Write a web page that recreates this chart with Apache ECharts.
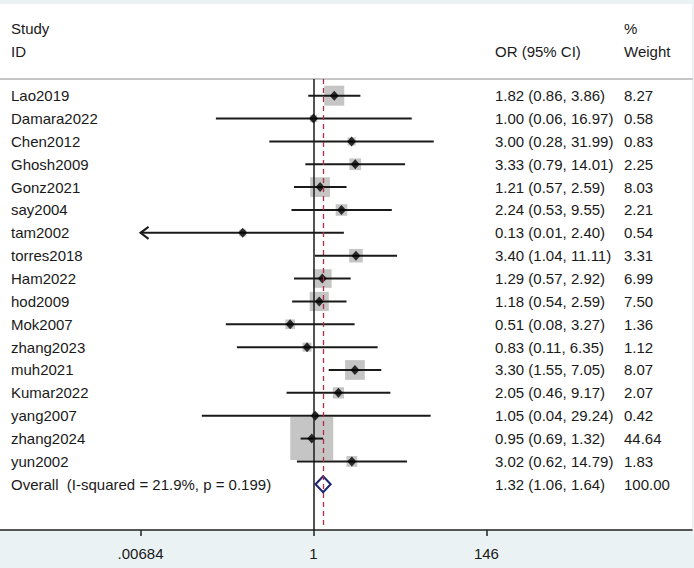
<!DOCTYPE html>
<html>
<head>
<meta charset="utf-8">
<script src="https://cdn.jsdelivr.net/npm/echarts@6/dist/echarts.min.js"></script>
<style>
  html, body { margin: 0; padding: 0; }
  #forest { width: 694px; height: 568px; }
</style>
</head>
<body>
<div id="forest"></div>
<script>
// study rows, top to bottom
const studies = ["Lao2019", "Damara2022", "Chen2012", "Ghosh2009", "Gonz2021", "say2004", "tam2002",
  "torres2018", "Ham2022", "hod2009", "Mok2007", "zhang2023", "muh2021", "Kumar2022", "yang2007",
  "zhang2024", "yun2002"];
const oddsRatio = [1.82, 1.00, 3.00, 3.33, 1.21, 2.24, 0.13, 3.40, 1.29, 1.18, 0.51, 0.83, 3.30, 2.05, 1.05, 0.95, 3.02];
// tam2002 low bound prints as 0.01 but runs off the left edge (arrow), so it is below .00684
const ciLow = [0.86, 0.06, 0.28, 0.79, 0.57, 0.53, 0.006, 1.04, 0.57, 0.54, 0.08, 0.11, 1.55, 0.46, 0.04, 0.69, 0.62];
const ciHigh = [3.86, 16.97, 31.99, 14.01, 2.59, 9.55, 2.40, 11.11, 2.92, 2.59, 3.27, 6.35, 7.05, 9.17, 29.24, 1.32, 14.79];
const weights = [8.27, 0.58, 0.83, 2.25, 8.03, 2.21, 0.54, 3.31, 6.99, 7.50, 1.36, 1.12, 8.07, 2.07, 0.42, 44.64, 1.83];

const overallLabel = "Overall  (I-squared = 21.9%, p = 0.199)";
const overallOR = [1.32, 1.06, 1.64]; // estimate, low, high
const overallWeight = 100;

// x axis ticks (odds ratio, log scale)
const tickValues = [0.00684, 1, 146];
const tickLabels = [".00684", "1", "146"];

const FONT = "15px 'Liberation Sans', Arial, sans-serif";
const TXT = "#1a1a1a";
const plotMin = tickValues[0];
const ln = Math.log;
const tickLn = tickValues.map(v => ln(v));

const rows = studies.map((name, i) => {
  const low = Math.max(ciLow[i], plotMin);
  return [i, ln(low), ln(ciHigh[i]), ciLow[i] < plotMin ? 1 : 0];
});
const squares = studies.map((name, i) => [ln(oddsRatio[i]), i, weights[i]]);
const points = studies.map((name, i) => [ln(oddsRatio[i]), i]);
const nOverall = studies.length;

function ciText(o, l, h) {
  return o.toFixed(2) + " (" + l.toFixed(2) + ", " + h.toFixed(2) + ")";
}

const chart = echarts.init(document.getElementById("forest"), null, { renderer: "svg" });

chart.setOption({
  backgroundColor: "#eaf2f3",
  animation: false,
  textStyle: { fontFamily: "'Liberation Sans', Arial, sans-serif" },
  grid: { left: 0, right: 2, top: 79, bottom: 38 },
  graphic: [
    { type: "rect", z: -10, shape: { x: 0, y: 4, width: 692, height: 526 }, style: { fill: "#ffffff" } },
    { type: "text", x: 11, y: 28, style: { text: "Study", font: FONT, fill: TXT, verticalAlign: "middle" } },
    { type: "text", x: 11, y: 51, style: { text: "ID", font: FONT, fill: TXT, verticalAlign: "middle" } },
    { type: "text", x: 495, y: 51, style: { text: "OR (95% CI)", font: FONT, fill: TXT, verticalAlign: "middle" } },
    { type: "text", x: 624, y: 28, style: { text: "%", font: FONT, fill: TXT, verticalAlign: "middle" } },
    { type: "text", x: 624, y: 51, style: { text: "Weight", font: FONT, fill: TXT, verticalAlign: "middle" } }
  ],
  xAxis: [
    {
      type: "value",
      min: -9.035,
      max: 10.908,
      position: "bottom",
      axisLine: { onZero: false, lineStyle: { color: "#222", width: 1.5 } },
      axisTick: { show: true, length: 6, lineStyle: { color: "#222", width: 1.5 }, customValues: tickLn },
      axisLabel: {
        customValues: tickLn,
        margin: 16,
        color: TXT,
        fontSize: 15,
        formatter: v => {
          const k = tickLn.findIndex(t => Math.abs(t - v) < 1e-6);
          return k >= 0 ? tickLabels[k] : "";
        }
      },
      splitLine: { show: false }
    },
    {
      type: "value",
      min: -9.035,
      max: 10.908,
      position: "top",
      axisLine: { onZero: false, lineStyle: { color: "#c6c6c6", width: 2 } },
      axisTick: { show: false },
      axisLabel: { show: false },
      splitLine: { show: false }
    }
  ],
  yAxis: { type: "value", min: -0.73, max: 19.0, inverse: true, show: false },
  series: [
    {
      // reference lines: null (OR = 1) and overall estimate
      type: "line",
      data: [],
      z: 1,
      markLine: {
        silent: true,
        symbol: "none",
        label: { show: false },
        data: [
          { xAxis: 0, lineStyle: { color: "#1a1a1a", width: 1.5, type: "solid" } },
          { xAxis: ln(overallOR[0]), lineStyle: { color: "#a8304a", width: 1.3, type: [5, 4] } }
        ]
      }
    },
    {
      type: "scatter",
      z: 2,
      symbol: "rect",
      symbolSize: v => 6.04 * Math.sqrt(v[2]) + 2.6,
      itemStyle: { color: "#b6b6b6" },
      data: squares
    },
    {
      type: "custom",
      z: 3,
      data: rows,
      renderItem: (params, api) => {
        const i = api.value(0);
        const a = api.coord([api.value(1), i]);
        const b = api.coord([api.value(2), i]);
        const y = a[1];
        const children = [
          { type: "line", shape: { x1: a[0], y1: y, x2: b[0], y2: y }, style: { stroke: "#1a1a1a", lineWidth: 2 } },
          { type: "text", x: 11, y: y, style: { text: studies[i], font: FONT, fill: TXT, verticalAlign: "middle" } },
          { type: "text", x: 495, y: y, style: { text: ciText(oddsRatio[i], ciLow[i], ciHigh[i]), font: FONT, fill: TXT, verticalAlign: "middle" } },
          { type: "text", x: 624, y: y, style: { text: weights[i].toFixed(2), font: FONT, fill: TXT, verticalAlign: "middle" } }
        ];
        if (api.value(3)) {
          children.push({
            type: "polyline",
            shape: { points: [[a[0] + 8, y - 6], [a[0], y], [a[0] + 8, y + 6]] },
            style: { stroke: "#1a1a1a", lineWidth: 2, fill: null }
          });
        }
        return { type: "group", children };
      }
    },
    {
      type: "scatter",
      z: 4,
      symbol: "diamond",
      symbolSize: [9, 10],
      itemStyle: { color: "#000" },
      data: points
    },
    {
      type: "custom",
      z: 4,
      data: [[nOverall, ln(overallOR[0]), ln(overallOR[1]), ln(overallOR[2])]],
      renderItem: (params, api) => {
        const r = api.value(0);
        const c = api.coord([api.value(1), r]);
        const l = api.coord([api.value(2), r]);
        const h = api.coord([api.value(3), r]);
        const y = c[1];
        return {
          type: "group",
          children: [
            {
              type: "polygon",
              shape: { points: [[l[0], y], [c[0], y - 8], [h[0], y], [c[0], y + 8]] },
              style: { stroke: "#1d2570", lineWidth: 2, fill: "#ffffff" }
            },
            { type: "text", x: 11, y: y, style: { text: overallLabel, font: FONT, fill: TXT, verticalAlign: "middle" } },
            { type: "text", x: 495, y: y, style: { text: ciText(overallOR[0], overallOR[1], overallOR[2]), font: FONT, fill: TXT, verticalAlign: "middle" } },
            { type: "text", x: 624, y: y, style: { text: overallWeight.toFixed(2), font: FONT, fill: TXT, verticalAlign: "middle" } }
          ]
        };
      }
    }
  ]
});
</script>
</body>
</html>
